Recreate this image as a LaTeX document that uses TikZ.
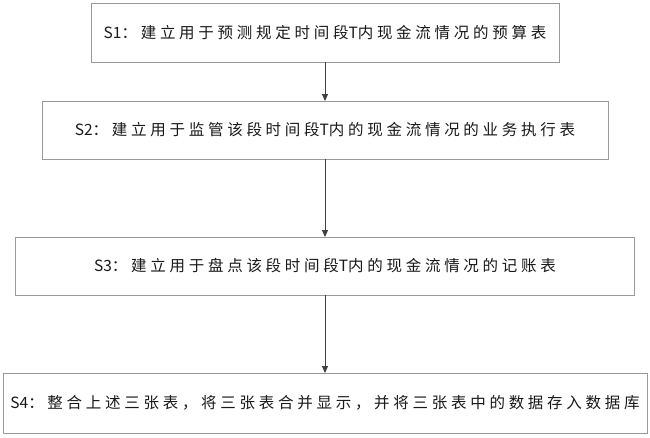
\documentclass[tikz,border=0pt]{standalone}
\usepackage{fontspec}
\newfontfamily\cjk[LetterSpace=24]{Noto Sans CJK SC}
\newfontfamily\lat{Noto Sans CJK SC}
\newcommand{\la}[1]{{\lat #1}}
\usetikzlibrary{arrows.meta}
\tikzset{
  stepbox/.style={draw=black!40, line width=0.9pt, fill=white, inner sep=0pt, outer sep=0pt,
    font=\cjk\fontsize{15.5}{18}\selectfont, text=black!90},
  flow/.style={draw=black!75, line width=0.9pt, -{Triangle[length=7pt,width=6pt]}}
}
\begin{document}
\begin{tikzpicture}[x=1pt,y=-1pt]
\useasboundingbox[fill=white] (0,0) rectangle (650,437);
\node[stepbox, minimum width=468pt, minimum height=59pt] (s1) at (325,32.5) {\la{S1}：建立用于预测规定时间段\la{T}内现金流情况的预算表};
\node[stepbox, minimum width=566pt, minimum height=58pt] (s2) at (325,130) {\la{S2}：建立用于监管该段时间段\la{T}内的现金流情况的业务执行表};
\node[stepbox, minimum width=619pt, minimum height=58pt] (s3) at (325,266) {\la{S3}：建立用于盘点该段时间段\la{T}内的现金流情况的记账表};
\node[stepbox, minimum width=644pt, minimum height=60pt] (s4) at (325,403) {\la{S4}：整合上述三张表，将三张表合并显示，并将三张表中的数据存入数据库};
\draw[flow] (s1) -- (s2);
\draw[flow] (s2) -- (s3);
\draw[flow] (s3) -- (s4);
\end{tikzpicture}
\end{document}
